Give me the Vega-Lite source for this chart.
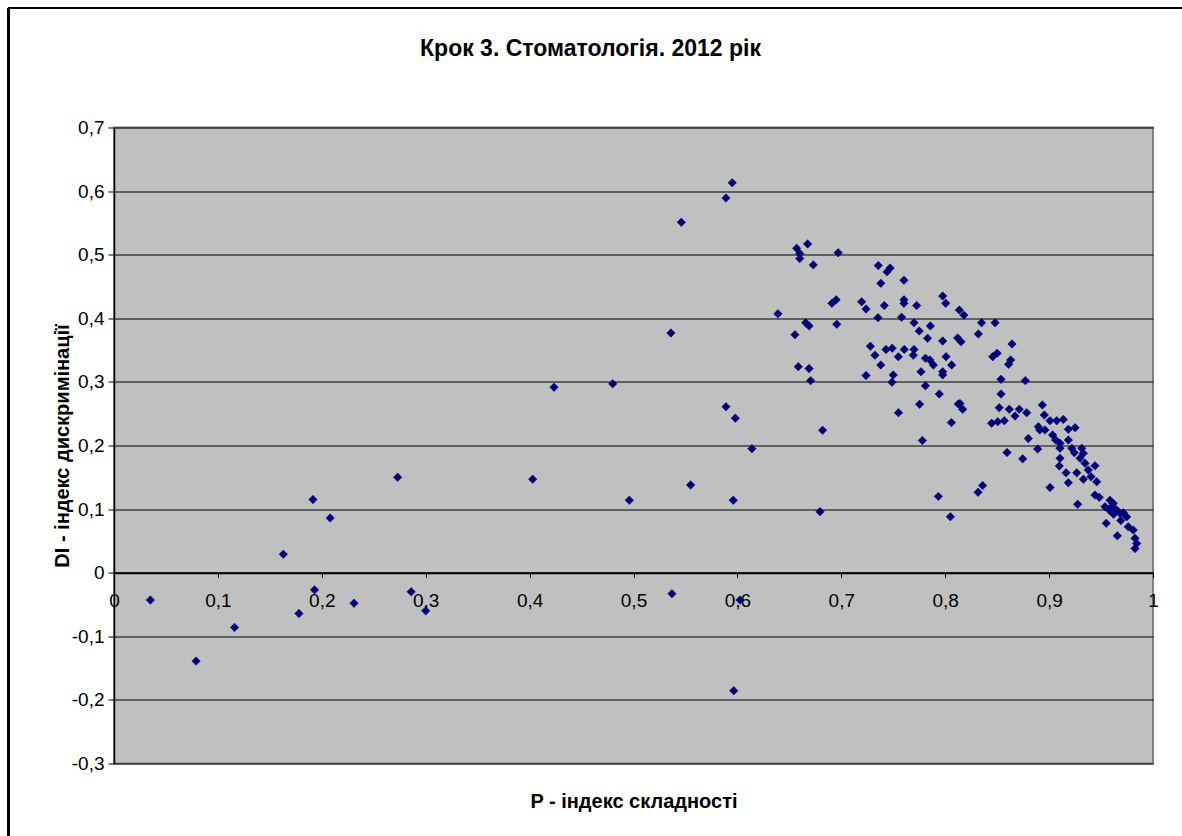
{
  "$schema": "https://vega.github.io/schema/vega-lite/v6.json",
  "autosize": {"type": "none"},
  "width": 1039,
  "height": 636,
  "padding": {"left": 114, "top": 127.5, "right": 29, "bottom": 72.5},
  "background": "white",
  "title": {
    "text": "Крок 3. Стоматологія. 2012 рік",
    "font": "Liberation Sans",
    "fontSize": 23,
    "fontWeight": "bold",
    "color": "black",
    "anchor": "middle",
    "dx": -43,
    "offset": -54
  },
  "config": {
    "view": {"fill": "#C0C0C0", "stroke": "#808080", "strokeWidth": 2},
    "axis": {"labelFont": "Liberation Sans", "titleFont": "Liberation Sans", "labelColor": "black", "titleColor": "black"}
  },
  "data": {
    "values": [
      {"p": 0.035, "di": -0.043}, {"p": 0.079, "di": -0.139}, {"p": 0.116, "di": -0.086}, {"p": 0.163, "di": 0.029},
      {"p": 0.178, "di": -0.064}, {"p": 0.193, "di": -0.027}, {"p": 0.1915, "di": 0.115}, {"p": 0.208, "di": 0.086},
      {"p": 0.231, "di": -0.048}, {"p": 0.273, "di": 0.150}, {"p": 0.286, "di": -0.030}, {"p": 0.300, "di": -0.060},
      {"p": 0.403, "di": 0.147}, {"p": 0.4235, "di": 0.2915}, {"p": 0.480, "di": 0.297}, {"p": 0.496, "di": 0.114},
      {"p": 0.536, "di": 0.377}, {"p": 0.537, "di": -0.033}, {"p": 0.546, "di": 0.551}, {"p": 0.555, "di": 0.138},
      {"p": 0.589, "di": 0.589}, {"p": 0.589, "di": 0.261}, {"p": 0.595, "di": 0.613}, {"p": 0.596, "di": 0.114},
      {"p": 0.598, "di": 0.243}, {"p": 0.5965, "di": -0.1855}, {"p": 0.6025, "di": -0.043}, {"p": 0.614, "di": 0.195},
      {"p": 0.639, "di": 0.407}, {"p": 0.6554, "di": 0.374}, {"p": 0.657, "di": 0.510}, {"p": 0.6586, "di": 0.324},
      {"p": 0.660, "di": 0.502}, {"p": 0.660, "di": 0.494}, {"p": 0.6657, "di": 0.393}, {"p": 0.6676, "di": 0.517},
      {"p": 0.669, "di": 0.388}, {"p": 0.669, "di": 0.321}, {"p": 0.6705, "di": 0.302}, {"p": 0.673, "di": 0.484},
      {"p": 0.6795, "di": 0.096}, {"p": 0.682, "di": 0.224}, {"p": 0.691, "di": 0.4235}, {"p": 0.695, "di": 0.429},
      {"p": 0.6956, "di": 0.3906}, {"p": 0.697, "di": 0.503}, {"p": 0.7196, "di": 0.426}, {"p": 0.7238, "di": 0.4146},
      {"p": 0.7238, "di": 0.310}, {"p": 0.728, "di": 0.356}, {"p": 0.7324, "di": 0.342}, {"p": 0.7353, "di": 0.401},
      {"p": 0.7356, "di": 0.483}, {"p": 0.738, "di": 0.455}, {"p": 0.738, "di": 0.3266}, {"p": 0.7414, "di": 0.420},
      {"p": 0.743, "di": 0.351}, {"p": 0.744, "di": 0.473}, {"p": 0.747, "di": 0.479}, {"p": 0.749, "di": 0.353},
      {"p": 0.750, "di": 0.311}, {"p": 0.7488, "di": 0.2994}, {"p": 0.7549, "di": 0.3396}, {"p": 0.755, "di": 0.2516},
      {"p": 0.758, "di": 0.4016}, {"p": 0.7603, "di": 0.460}, {"p": 0.7603, "di": 0.429}, {"p": 0.7603, "di": 0.4235},
      {"p": 0.7606, "di": 0.351}, {"p": 0.7693, "di": 0.342}, {"p": 0.770, "di": 0.351}, {"p": 0.770, "di": 0.393},
      {"p": 0.7725, "di": 0.420}, {"p": 0.775, "di": 0.380}, {"p": 0.7754, "di": 0.2648}, {"p": 0.7767, "di": 0.316},
      {"p": 0.778, "di": 0.208}, {"p": 0.781, "di": 0.337}, {"p": 0.781, "di": 0.294}, {"p": 0.783, "di": 0.3685},
      {"p": 0.7853, "di": 0.3345}, {"p": 0.7857, "di": 0.388}, {"p": 0.7886, "di": 0.3266}, {"p": 0.7934, "di": 0.120},
      {"p": 0.7943, "di": 0.281}, {"p": 0.7976, "di": 0.435}, {"p": 0.7976, "di": 0.3643}, {"p": 0.7976, "di": 0.316},
      {"p": 0.7976, "di": 0.311}, {"p": 0.8005, "di": 0.4236}, {"p": 0.8008, "di": 0.3397}, {"p": 0.805, "di": 0.088},
      {"p": 0.806, "di": 0.236}, {"p": 0.8062, "di": 0.3266}, {"p": 0.812, "di": 0.369}, {"p": 0.8126, "di": 0.2652},
      {"p": 0.8136, "di": 0.413}, {"p": 0.8142, "di": 0.266}, {"p": 0.8152, "di": 0.3632}, {"p": 0.8168, "di": 0.257},
      {"p": 0.818, "di": 0.405}, {"p": 0.8319, "di": 0.3753}, {"p": 0.8316, "di": 0.1264}, {"p": 0.835, "di": 0.393},
      {"p": 0.836, "di": 0.137}, {"p": 0.8447, "di": 0.2349}, {"p": 0.8457, "di": 0.3397}, {"p": 0.848, "di": 0.393},
      {"p": 0.850, "di": 0.345}, {"p": 0.8505, "di": 0.2374}, {"p": 0.852, "di": 0.2595}, {"p": 0.8537, "di": 0.304},
      {"p": 0.8537, "di": 0.281}, {"p": 0.8569, "di": 0.239}, {"p": 0.8595, "di": 0.189}, {"p": 0.861, "di": 0.3277},
      {"p": 0.8617, "di": 0.257}, {"p": 0.863, "di": 0.3344}, {"p": 0.8643, "di": 0.3597}, {"p": 0.8672, "di": 0.2464},
      {"p": 0.8713, "di": 0.257}, {"p": 0.8746, "di": 0.179}, {"p": 0.8771, "di": 0.302}, {"p": 0.8784, "di": 0.2516},
      {"p": 0.880, "di": 0.211}, {"p": 0.889, "di": 0.1945}, {"p": 0.8896, "di": 0.2296}, {"p": 0.891, "di": 0.2244},
      {"p": 0.8935, "di": 0.2637}, {"p": 0.8954, "di": 0.248}, {"p": 0.896, "di": 0.2244}, {"p": 0.9009, "di": 0.239},
      {"p": 0.9009, "di": 0.134}, {"p": 0.9034, "di": 0.2165}, {"p": 0.9063, "di": 0.2087}, {"p": 0.9073, "di": 0.239},
      {"p": 0.9105, "di": 0.2035}, {"p": 0.9105, "di": 0.1956}, {"p": 0.9105, "di": 0.180}, {"p": 0.9098, "di": 0.1678},
      {"p": 0.9137, "di": 0.241}, {"p": 0.9163, "di": 0.157}, {"p": 0.9185, "di": 0.2255}, {"p": 0.9185, "di": 0.2086},
      {"p": 0.9185, "di": 0.1415}, {"p": 0.9218, "di": 0.1956}, {"p": 0.9243, "di": 0.1887}, {"p": 0.925, "di": 0.228},
      {"p": 0.9266, "di": 0.157}, {"p": 0.9275, "di": 0.1075}, {"p": 0.9298, "di": 0.180}, {"p": 0.9314, "di": 0.1956},
      {"p": 0.933, "di": 0.1877}, {"p": 0.933, "di": 0.147}, {"p": 0.9346, "di": 0.172}, {"p": 0.9377, "di": 0.1615},
      {"p": 0.9403, "di": 0.151}, {"p": 0.9442, "di": 0.168}, {"p": 0.9442, "di": 0.122}, {"p": 0.9458, "di": 0.143},
      {"p": 0.9483, "di": 0.1185}, {"p": 0.9538, "di": 0.1038}, {"p": 0.955, "di": 0.0777}, {"p": 0.9586, "di": 0.114},
      {"p": 0.958, "di": 0.098}, {"p": 0.9605, "di": 0.104}, {"p": 0.962, "di": 0.092}, {"p": 0.969, "di": 0.082},
      {"p": 0.9618, "di": 0.109}, {"p": 0.965, "di": 0.0986}, {"p": 0.9657, "di": 0.058}, {"p": 0.9682, "di": 0.0934},
      {"p": 0.9714, "di": 0.0943}, {"p": 0.9747, "di": 0.088}, {"p": 0.9762, "di": 0.0723}, {"p": 0.981, "di": 0.067},
      {"p": 0.9827, "di": 0.054}, {"p": 0.9843, "di": 0.046}, {"p": 0.9827, "di": 0.038}
    ]
  },
  "layer": [
    {
      "mark": {"type": "point", "shape": "diamond", "filled": true, "size": 72, "color": "#000080", "stroke": "#000050", "strokeWidth": 0.5, "opacity": 1},
      "encoding": {
        "x": {
          "field": "p", "type": "quantitative",
          "scale": {"domain": [0, 1], "nice": false, "zero": false},
          "axis": {
            "values": [0, 0.1, 0.2, 0.3, 0.4, 0.5, 0.6, 0.7, 0.8, 0.9, 1],
            "labelExpr": "replace(replace(format(datum.value, '.1~f'), '.', ','), '\u2212', '-')",
            "offset": -190.8,
            "grid": false,
            "domainColor": "black", "domainWidth": 2,
            "tickColor": "black", "tickSize": 5, "tickWidth": 1,
            "labelFontSize": 19, "labelPadding": 14, "labelFlush": false, "labelOverlap": false,
            "title": "P - індекс складності",
            "titleFontSize": 20, "titleFontWeight": "bold",
            "titleY": 229, "titleBaseline": "middle"
          }
        },
        "y": {
          "field": "di", "type": "quantitative",
          "scale": {"domain": [-0.3, 0.7], "nice": false, "zero": false},
          "axis": {
            "values": [-0.3, -0.2, -0.1, 0, 0.1, 0.2, 0.3, 0.4, 0.5, 0.6, 0.7],
            "labelExpr": "replace(replace(format(datum.value, '.1~f'), '.', ','), '\u2212', '-')",
            "grid": true, "gridColor": "black", "gridWidth": 1, "gridOpacity": 1,
            "domainColor": "black", "domainWidth": 1.5,
            "tickColor": "black", "tickSize": 6, "tickWidth": 1,
            "labelFontSize": 19, "labelPadding": 4,
            "title": "DI - індекс дискримінації",
            "titleFontSize": 20, "titleFontWeight": "bold",
            "titleX": -52, "titleY": 318, "titleAngle": -90, "titleAlign": "center", "titleBaseline": "middle"
          }
        }
      }
    },
    {
      "mark": {"type": "rule", "color": "black", "strokeWidth": 2},
      "encoding": {
        "x": {"datum": -0.102, "type": "quantitative"},
        "y": {"datum": 0.888, "type": "quantitative"},
        "y2": {"datum": -0.42}
      }
    },
    {
      "mark": {"type": "rule", "color": "black", "strokeWidth": 2},
      "encoding": {
        "x": {"datum": -0.102, "type": "quantitative"},
        "x2": {"datum": 1.03},
        "y": {"datum": 0.888, "type": "quantitative"}
      }
    }
  ]
}
